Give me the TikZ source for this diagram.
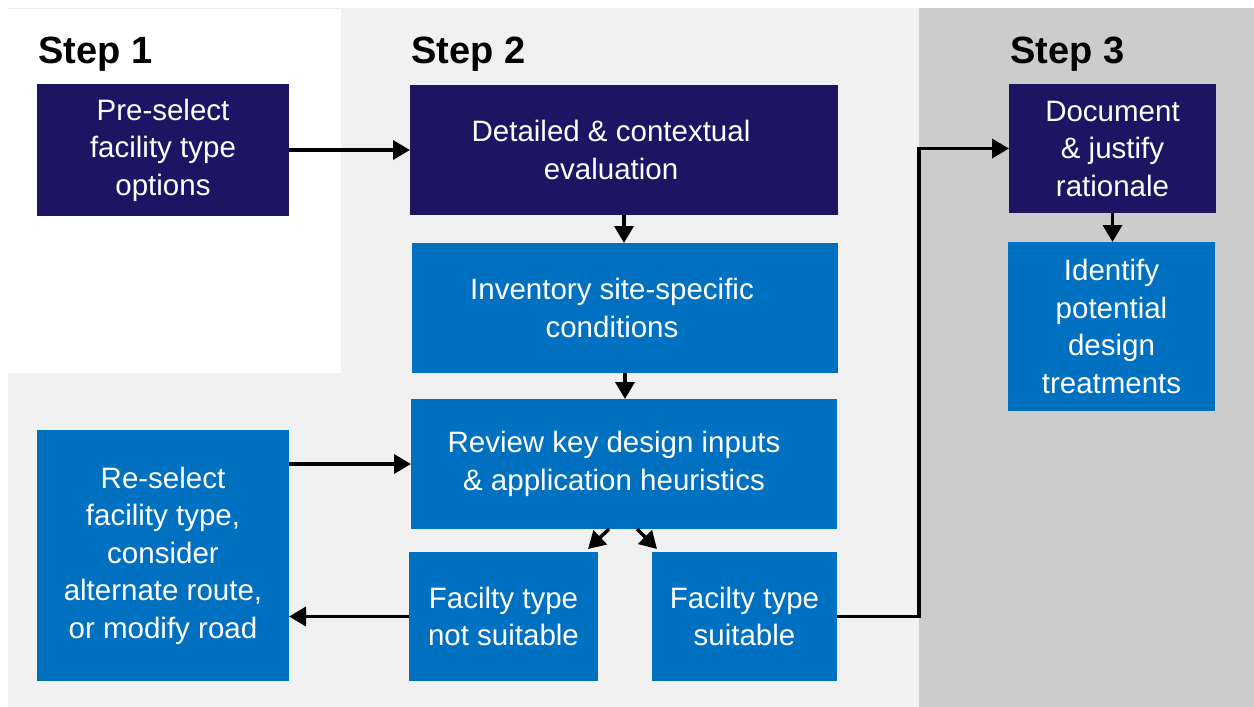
\documentclass[tikz,border=0pt]{standalone}
\usepackage{fontspec}
\setmainfont{Liberation Sans}
\usetikzlibrary{arrows.meta}
\definecolor{navy}{HTML}{1E1464}
\definecolor{blu}{HTML}{0070C0}
\definecolor{lgray}{HTML}{F1F1F1}
\definecolor{dgray}{HTML}{CCCCCC}
\newcommand{\rsh}{\hspace*{26pt}}
\tikzset{
  box/.style={inner sep=0pt, outer sep=0pt, text=white, align=center,
    font=\fontsize{29.5}{37.5}\selectfont},
  navybox/.style={box, fill=navy},
  bluebox/.style={box, fill=blu},
  arr/.style={line width=3.5pt, -{Triangle[length=17pt,width=19pt]}},
  steptitle/.style={font=\bfseries\fontsize{38}{40}\selectfont, anchor=base west, inner sep=0pt},
}
\begin{document}
\begin{tikzpicture}[x=1pt,y=-1pt]
\useasboundingbox (0,0) rectangle (1254,707);
\fill[white] (0,0) rectangle (1254,707);
\fill[lgray] (341,8) rectangle (919,707);
\fill[lgray] (8,373) rectangle (341,707);
\fill[dgray] (919,8) rectangle (1254,707);
\draw[black!8, line width=1pt] (8,8.5) -- (341,8.5);

\node[steptitle] (s1) at (38,63) {Step\ 1};
\node[steptitle] (s2) at (411,63) {Step\ 2};
\node[steptitle] (s3) at (1010,63) {Step\ 3};

\node[navybox, minimum width=252pt, minimum height=132pt] (pre) at (163,150)
  {Pre-select\\facility type\\options};
\node[navybox, minimum width=428pt, minimum height=130pt] (det) at (624,150)
  {Detailed \& contextual\rsh\\evaluation\rsh};
\node[bluebox, minimum width=426pt, minimum height=130pt] (inv) at (625,308)
  {Inventory site-specific\rsh\\conditions\rsh};
\node[bluebox, minimum width=426pt, minimum height=130pt] (rev) at (624,464)
  {Review key design inputs\hspace*{20pt}\\\& application heuristics\hspace*{20pt}};
\node[bluebox, minimum width=252pt, minimum height=251pt] (res) at (163,555.5)
  {Re-select\\facility type,\\consider\\alternate route,\\or modify road};
\node[bluebox, minimum width=189pt, minimum height=129pt] (nsu) at (503.5,616.5)
  {Facilty type\\not suitable};
\node[bluebox, minimum width=185pt, minimum height=129pt] (sui) at (744.5,616.5)
  {Facilty type\\suitable};
\node[navybox, minimum width=207pt, minimum height=129pt] (doc) at (1112.5,148.5)
  {Document\\\& justify\\rationale};
\node[bluebox, minimum width=207pt, minimum height=169pt] (idf) at (1111.5,326.5)
  {Identify\\potential\\design\\treatments};

\coordinate (bend) at (919,0);

\draw[arr] (pre.east) -- (pre.east -| det.west);
\draw[arr] (det.south) -- (det.south |- inv.north);
\draw[arr] (inv.south) -- (inv.south |- rev.north);
\draw[arr] (res.east |- rev.west) -- (rev.west);
\draw[arr] ([xshift=-15pt]rev.south) -- ([xshift=-10pt,yshift=3pt]nsu.north east);
\draw[arr] ([xshift=13pt]rev.south) -- ([xshift=5pt,yshift=3pt]sui.north west);
\draw[arr] (nsu.west) -- (nsu.west -| res.east);
\draw[arr] (sui.east) -| (bend |- doc.west) -- (doc.west);
\draw[arr] (doc.south) -- (doc.south |- idf.north);
\end{tikzpicture}
\end{document}
